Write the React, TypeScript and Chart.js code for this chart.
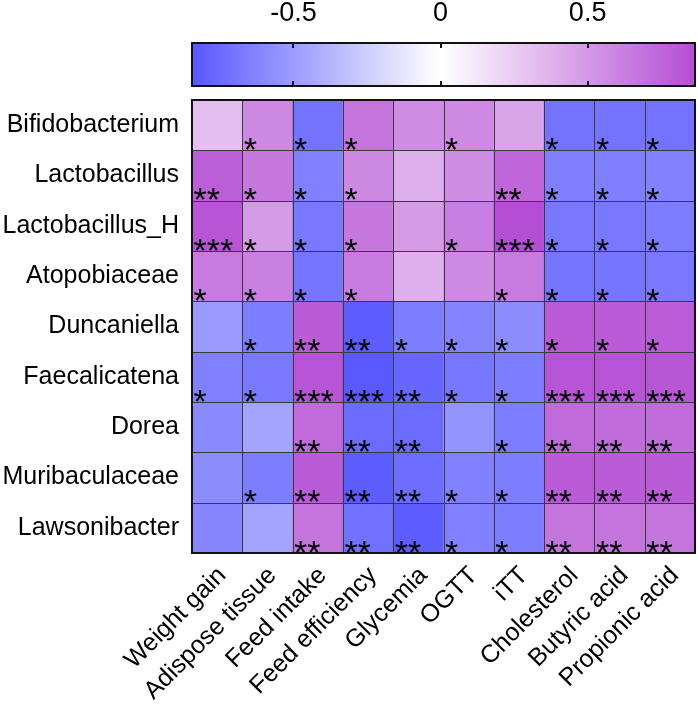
import { useEffect, useRef } from "react";
import { Chart, registerables } from "chart.js";

Chart.register(...registerables);

const FONT = "'Liberation Sans', Arial, Helvetica, sans-serif";

const columns = [
  "Weight gain",
  "Adispose tissue",
  "Feed intake",
  "Feed efficiency",
  "Glycemia",
  "OGTT",
  "iTT",
  "Cholesterol",
  "Butyric acid",
  "Propionic acid",
];

const rowNames = [
  "Bifidobacterium",
  "Lactobacillus",
  "Lactobacillus_H",
  "Atopobiaceae",
  "Duncaniella",
  "Faecalicatena",
  "Dorea",
  "Muribaculaceae",
  "Lawsonibacter",
];

// correlation values (row = taxon, column = parameter)
const bifidobacterium = [0.32, 0.58, -0.71, 0.68, 0.56, 0.57, 0.44, -0.71, -0.71, -0.71];
const lactobacillus = [0.78, 0.66, -0.64, 0.58, 0.39, 0.56, 0.75, -0.65, -0.65, -0.63];
const lactobacillusH = [0.83, 0.49, -0.68, 0.66, 0.49, 0.63, 0.86, -0.68, -0.68, -0.66];
const atopobiaceae = [0.65, 0.62, -0.7, 0.65, 0.38, 0.57, 0.65, -0.7, -0.7, -0.68];
const duncaniella = [-0.51, -0.66, 0.8, -0.82, -0.66, -0.62, -0.58, 0.8, 0.8, 0.79];
const faecalicatena = [-0.64, -0.68, 0.83, -0.84, -0.77, -0.69, -0.66, 0.83, 0.83, 0.82];
const dorea = [-0.59, -0.46, 0.73, -0.75, -0.75, -0.54, -0.66, 0.73, 0.72, 0.72];
const muribaculaceae = [-0.58, -0.66, 0.8, -0.82, -0.74, -0.64, -0.66, 0.8, 0.8, 0.8];
const lawsonibacter = [-0.61, -0.46, 0.68, -0.72, -0.82, -0.64, -0.66, 0.68, 0.68, 0.68];

// significance marks
const bifidobacteriumStars = ["", "*", "*", "*", "", "*", "", "*", "*", "*"];
const lactobacillusStars = ["**", "*", "*", "*", "", "", "**", "*", "*", "*"];
const lactobacillusHStars = ["***", "*", "*", "*", "", "*", "***", "*", "*", "*"];
const atopobiaceaeStars = ["*", "*", "*", "*", "", "", "*", "*", "*", "*"];
const duncaniellaStars = ["", "*", "**", "**", "*", "*", "*", "*", "*", "*"];
const faecalicatenaStars = ["*", "*", "***", "***", "**", "*", "*", "***", "***", "***"];
const doreaStars = ["", "", "**", "**", "**", "", "*", "**", "**", "**"];
const muribaculaceaeStars = ["", "*", "**", "**", "**", "*", "*", "**", "**", "**"];
const lawsonibacterStars = ["", "", "**", "**", "**", "*", "*", "**", "**", "**"];

const colorbarTicks = [-0.5, 0, 0.5];
const colorMin = -0.845;
const colorMax = 0.865;

const valueRows = [
  bifidobacterium,
  lactobacillus,
  lactobacillusH,
  atopobiaceae,
  duncaniella,
  faecalicatena,
  dorea,
  muribaculaceae,
  lawsonibacter,
];
const starRows = [
  bifidobacteriumStars,
  lactobacillusStars,
  lactobacillusHStars,
  atopobiaceaeStars,
  duncaniellaStars,
  faecalicatenaStars,
  doreaStars,
  muribaculaceaeStars,
  lawsonibacterStars,
];

const NEG = [88, 88, 255];
const POS = [180, 78, 212];

function rgbFor(v: number) {
  const t = v < 0 ? Math.min(1, v / colorMin) : Math.min(1, v / colorMax);
  const end = v < 0 ? NEG : POS;
  return end.map((e) => Math.round(255 + (e - 255) * t));
}
function cellColor(v: number) {
  return `rgb(${rgbFor(v).join(",")})`;
}

const decorPlugin = {
  id: "heatDecor",
  afterDatasetsDraw(chart: any) {
    const ctx = chart.ctx;
    ctx.save();
    // cell borders
    ctx.strokeStyle = "#3a3a3a";
    ctx.lineWidth = 1;
    chart.data.datasets.forEach((_: any, i: number) => {
      const meta = chart.getDatasetMeta(i);
      meta.data.forEach((el: any) => {
        const { x, y, base, width } = el.getProps(["x", "y", "base", "width"], true);
        const l = Math.round(x - width / 2) + 0.5;
        const r = Math.round(x + width / 2) + 0.5;
        const t = Math.round(Math.min(y, base)) + 0.5;
        const b = Math.round(Math.max(y, base)) + 0.5;
        ctx.strokeRect(l, t, r - l, b - t);
      });
    });
    // stars
    ctx.font = `34px ${FONT}`;
    ctx.fillStyle = "#000";
    ctx.textAlign = "left";
    ctx.textBaseline = "alphabetic";
    const m = ctx.measureText("*");
    chart.data.datasets.forEach((_: any, i: number) => {
      const meta = chart.getDatasetMeta(i);
      meta.data.forEach((el: any, j: number) => {
        const s = starRows[i][j];
        if (!s) return;
        const { x, y, base, width } = el.getProps(["x", "y", "base", "width"], true);
        const left = x - width / 2;
        const bottom = Math.max(y, base);
        ctx.fillText(s, left + 1.5 + m.actualBoundingBoxLeft, bottom - 0.5 - m.actualBoundingBoxDescent);
      });
    });
    // outer frame
    const a = chart.chartArea;
    ctx.strokeStyle = "#111";
    ctx.lineWidth = 2;
    ctx.strokeRect(a.left, a.top, a.right - a.left, a.bottom - a.top);
    ctx.restore();
  },
  afterDraw(chart: any) {
    const sc = chart.scales.cb;
    if (!sc) return;
    const ctx = chart.ctx;
    const x0 = sc.getPixelForValue(colorMin);
    const x1 = sc.getPixelForValue(colorMax);
    const xz = sc.getPixelForValue(0);
    const top = sc.top + 43;
    const bot = sc.top + 86;
    ctx.save();
    const g = ctx.createLinearGradient(x0, 0, x1, 0);
    g.addColorStop(0, `rgb(${NEG.join(",")})`);
    g.addColorStop((xz - x0) / (x1 - x0), "rgb(255,255,255)");
    g.addColorStop(1, `rgb(${POS.join(",")})`);
    ctx.fillStyle = g;
    ctx.fillRect(x0, top, x1 - x0, bot - top);
    ctx.strokeStyle = "#111";
    ctx.lineWidth = 2;
    colorbarTicks.forEach((v) => {
      const px = Math.round(sc.getPixelForValue(v));
      ctx.beginPath();
      ctx.moveTo(px, top);
      ctx.lineTo(px, top + 5);
      ctx.moveTo(px, bot - 5);
      ctx.lineTo(px, bot);
      ctx.stroke();
    });
    ctx.strokeRect(x0, top, x1 - x0, bot - top);
    ctx.restore();
  },
};

export default function App() {
  const ref = useRef<HTMLCanvasElement | null>(null);
  useEffect(() => {
    if (!ref.current) return;
    const datasets = valueRows.map((vals, i) => ({
      label: rowNames[i],
      data: vals.map(() => 1),
      backgroundColor: vals.map(cellColor),
      borderWidth: 0,
      barPercentage: 1,
      categoryPercentage: 1,
      stack: "cells",
    }));
    const chart = new Chart(ref.current, {
      type: "bar",
      data: { labels: columns, datasets },
      options: {
        responsive: false,
        animation: false,
        devicePixelRatio: 1,
        layout: { padding: { top: 0, left: 0, right: 3, bottom: 0 } },
        plugins: { legend: { display: false }, tooltip: { enabled: false } },
        scales: {
          x: {
            type: "category",
            stacked: true,
            offset: true,
            grid: { display: false },
            border: { display: false },
            ticks: {
              autoSkip: false,
              maxRotation: 45,
              minRotation: 45,
              padding: 0,
              labelOffset: 5,
              color: "#000",
              font: { family: FONT, size: 25 },
            },
            afterFit: (s: any) => {
              s.height = 152;
            },
          },
          y: {
            type: "linear",
            stacked: true,
            reverse: true,
            min: 0,
            max: 9,
            grid: { display: false },
            border: { display: false },
            afterBuildTicks: (s: any) => {
              s.ticks = rowNames.map((_, i) => ({ value: i + 0.5 }));
            },
            ticks: {
              autoSkip: false,
              padding: 5,
              color: "#000",
              font: { family: FONT, size: 25 },
              callback: (v: any) => rowNames[Math.floor(Number(v))],
            },
            afterFit: (s: any) => {
              s.width = 192;
            },
          },
          cb: {
            type: "linear",
            axis: "x",
            position: "top",
            offset: false,
            min: colorMin,
            max: colorMax,
            grid: { display: false, offset: false },
            border: { display: false },
            afterBuildTicks: (s: any) => {
              s.ticks = colorbarTicks.map((v) => ({ value: v }));
            },
            ticks: {
              autoSkip: false,
              maxRotation: 0,
              padding: 62,
              color: "#000",
              font: { family: FONT, size: 27 },
              callback: (v: any) => String(v),
            },
            afterFit: (s: any) => {
              s.height = 100;
            },
          },
        },
      } as any,
      plugins: [decorPlugin],
    });
    return () => chart.destroy();
  }, []);
  return (
    <div style={{ position: "absolute", left: 0, top: 0, width: 698, height: 705, background: "#fff" }}>
      <canvas ref={ref} width={698} height={705} />
    </div>
  );
}
